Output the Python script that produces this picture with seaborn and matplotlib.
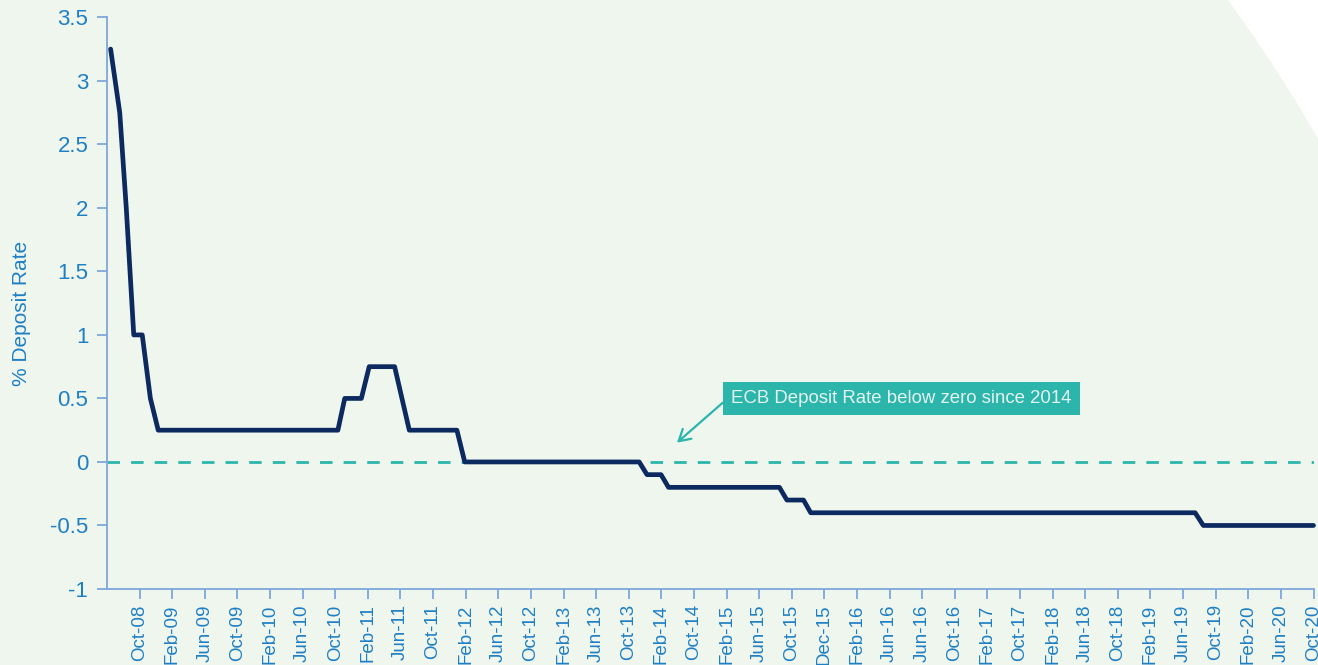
import matplotlib
matplotlib.use("Agg")
import matplotlib.pyplot as plt
import matplotlib.patches as mpatches
import seaborn as sns

# ECB deposit rate, x in category-slot units (one slot per tick label)
slot = [0.11, 0.39, 0.59, 0.82, 1.08, 1.33, 1.57, 7.08, 7.29, 7.80, 8.04, 8.82,
        9.27, 10.73, 10.97, 16.32, 16.56, 16.99, 17.22, 20.62, 20.85, 21.36,
        21.58, 33.37, 33.62, 37.0]
rate = [3.25, 2.75, 2.0, 1.0, 1.0, 0.5, 0.25, 0.25, 0.5, 0.5, 0.75, 0.75,
        0.25, 0.25, 0.0, 0.0, -0.1, -0.1, -0.2, -0.2, -0.3, -0.3,
        -0.4, -0.4, -0.5, -0.5]

tick_labels = ["Oct-08", "Feb-09", "Jun-09", "Oct-09", "Feb-10", "Jun-10", "Oct-10",
               "Feb-11", "Jun-11", "Oct-11", "Feb-12", "Jun-12", "Oct-12", "Feb-13",
               "Jun-13", "Oct-13", "Feb-14", "Oct-14", "Feb-15", "Jun-15", "Oct-15",
               "Dec-15", "Feb-16", "Jun-16", "Jun-16", "Oct-16", "Feb-17", "Oct-17",
               "Feb-18", "Jun-18", "Oct-18", "Feb-19", "Jun-19", "Oct-19", "Feb-20",
               "Jun-20", "Oct-20"]
y_ticks = [-1, -0.5, 0, 0.5, 1, 1.5, 2, 2.5, 3, 3.5]
y_labels = ["-1", "-0.5", "0", "0.5", "1", "1.5", "2", "2.5", "3", "3.5"]

note = "ECB Deposit Rate below zero since 2014"

sns.set_style("ticks")
plt.rcParams['font.family'] = ['Liberation Sans', 'DejaVu Sans']

navy = "#0c2a5f"
teal = "#2bb5ab"
blue_txt = "#1f7fc4"
spine_c = "#7ea8da"
bg = "#eef6ee"

fig = plt.figure(figsize=(13.18, 6.65), dpi=100, facecolor="white")
# big green panel with a rounded edge top-right
fig.patches.append(mpatches.Circle((0.175, -2.21), 15.0, transform=fig.dpi_scale_trans,
                                   facecolor=bg, edgecolor="none", zorder=-5))
ax = fig.add_axes([0.0812, 0.1143, 0.9154, 0.8597])
ax.set_facecolor("none")
ax.set_zorder(2)

ax.axhline(0, color=teal, lw=2, ls=(0, (4.5, 4)), zorder=1)
sns.lineplot(x=slot, y=rate, ax=ax, color=navy, lw=3.4, sort=False,
             estimator=None, zorder=3)
for ln in ax.lines[1:]:
    ln.set_solid_capstyle("round")
    ln.set_clip_on(False)

ax.set_xlim(0, 37)
ax.set_ylim(-1, 3.5)
ax.set_xticks(range(1, 38))
ax.set_xticklabels(tick_labels, rotation=90, fontsize=13.5, color=blue_txt)
ax.set_yticks(y_ticks)
ax.set_yticklabels(y_labels, fontsize=16, color=blue_txt)
ax.tick_params(axis="x", length=7, width=1.3, color=spine_c, pad=4)
ax.tick_params(axis="y", length=7, width=1.3, color=spine_c, pad=6.5)

sns.despine(ax=ax)
for s in ["left", "bottom"]:
    ax.spines[s].set_color(spine_c)
    ax.spines[s].set_linewidth(1.3)

ax.set_ylabel("% Deposit Rate", fontsize=15, color=blue_txt)
ax.yaxis.set_label_coords(-0.063, 0.4825)

ax.annotate(note, xy=(17.48, 0.152), xytext=(24.36, 0.50),
            ha="center", va="center", fontsize=13.4, color="#e4f4f0",
            bbox=dict(boxstyle="square,pad=0.45", fc=teal, ec="none"),
            arrowprops=dict(arrowstyle="->,head_length=0.6,head_width=0.35",
                            color=teal, lw=1.6, relpos=(0, 0.68),
                            shrinkA=0, shrinkB=0))

fig.savefig("out.png", dpi=100, facecolor="white")
